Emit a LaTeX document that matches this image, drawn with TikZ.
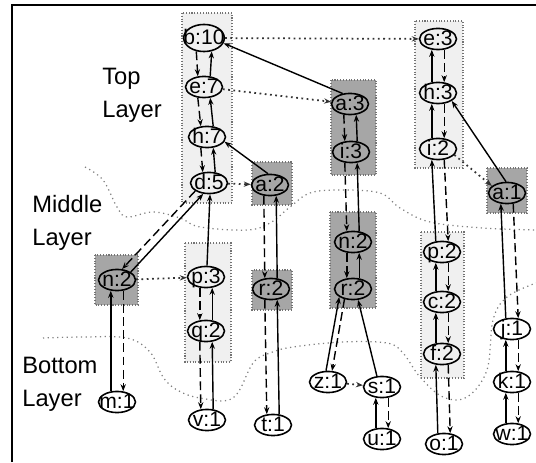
\documentclass[tikz,border=0pt]{standalone}
\usepackage{fontspec}
\setmainfont{Liberation Sans}
\usetikzlibrary{arrows.meta,shapes.geometric}

\tikzset{
  item/.style={ellipse, draw, line width=0.9pt, inner xsep=-3.5pt, inner ysep=0pt,
    minimum width=21pt, minimum height=12pt, text height=8pt, text depth=0.5pt,
    font=\fontsize{12}{13}\selectfont},
  layerlabel/.style={anchor=north west, inner sep=0pt, align=left,
    font=\fontsize{13.5}{18.8}\selectfont},
  lightbox/.style={fill=gray!12, draw=black!55, densely dotted, line width=0.6pt},
  darkbox/.style={fill=gray!70, draw=black!55, densely dotted, line width=0.6pt},
  childarc/.style={-{Stealth[length=4pt,width=3pt]}, line width=0.8pt, dash pattern=on 5pt off 2.5pt},
  parentarc/.style={-{Stealth[length=4pt,width=3pt]}, line width=0.8pt},
  nodelink/.style={-{Stealth[length=4pt,width=3pt]}, line width=1pt, dotted, black!80},
  layerline/.style={black!50, dotted, line width=0.7pt}
}

\begin{document}
\begin{tikzpicture}[x=0.02cm, y=-0.02cm]
  \useasboundingbox (0,0) rectangle (536,462);
  \draw[line width=1.2pt] (12,462) -- (12,5) -- (536,5);

  % boxes
  \filldraw[lightbox] (182,13) rectangle (232,203);
  \filldraw[lightbox] (415,21) rectangle (463,168);
  \filldraw[lightbox] (185,243) rectangle (231,362);
  \filldraw[lightbox] (421,232) rectangle (464,378);
  \filldraw[darkbox] (331,80) rectangle (376,175);
  \filldraw[darkbox] (252,162) rectangle (292,205);
  \filldraw[darkbox] (487,168) rectangle (527,213);
  \filldraw[darkbox] (95,255) rectangle (138,305);
  \filldraw[darkbox] (252,270) rectangle (292,310);
  \filldraw[darkbox] (330,212) rectangle (376,308);

  % layer borders
  \draw[layerline] plot[smooth, tension=0.6] coordinates {(85,167) (103,180) (117,207) (127,217)
    (153,212) (180,218) (200,227) (247,230) (270,223) (290,207) (310,193) (340,190) (380,193)
    (400,208) (430,222) (483,228) (536,230)};
  \draw[layerline] plot[smooth, tension=0.6] coordinates {(43,338) (83,337) (127,338) (150,352)
    (163,377) (177,390) (200,398) (233,398) (253,363) (270,353) (293,347) (343,342) (387,343)
    (403,353) (420,377) (443,397) (467,397) (487,370) (493,320) (507,297) (536,283)};

  \node[layerlabel] (toplbl) at (102,68) {Top\\Layer};
  \node[layerlabel] (midlbl) at (32,195) {Middle\\Layer};
  \node[layerlabel] (botlbl) at (22,357) {Bottom\\Layer};

  % top layer
  \node[item, minimum height=15.4pt] (b10) at (204,38) {b:10};
  \node[item] (e7) at (204,87) {e:7};
  \node[item] (h7) at (207,137) {h:7};
  \node[item] (d5) at (209,183) {d:5};
  \node[item] (a3) at (350,104) {a:3};
  \node[item] (i3) at (351,152) {i:3};
  \node[item] (e3) at (438,39) {e:3};
  \node[item] (h3) at (438,93) {h:3};
  \node[item] (i2) at (438,149) {i:2};
  \node[item] (a2) at (270,185) {a:2};
  \node[item] (a1) at (507,193) {a:1};

  % middle layer
  \node[item] (n2a) at (117,280) {n:2};
  \node[item] (p3) at (206,277) {p:3};
  \node[item] (q2) at (206,331) {q:2};
  \node[item] (r2a) at (271,289) {r:2};
  \node[item] (n2b) at (353,242) {n:2};
  \node[item] (r2b) at (353,289) {r:2};
  \node[item] (p2) at (442,252) {p:2};
  \node[item] (c2) at (442,302) {c:2};
  \node[item] (f2) at (442,354) {f:2};

  % bottom layer
  \node[item] (m1) at (117,402) {m:1};
  \node[item] (v1) at (207,420) {v:1};
  \node[item] (t1) at (273,425) {t:1};
  \node[item] (z1) at (328,382) {z:1};
  \node[item] (s1) at (382,387) {s:1};
  \node[item] (u1) at (382,439) {u:1};
  \node[item] (o1) at (444,444) {o:1};
  \node[item] (j1) at (512,329) {j:1};
  \node[item] (k1) at (512,382) {k:1};
  \node[item] (w1) at (512,434) {w:1};

  % node links
  \draw[nodelink] (b10) -- (e3);
  \draw[nodelink] (e7) -- (a3);
  \draw[nodelink] (d5) -- (a2);
  \draw[nodelink] (i2.-20) -- (a1.155);
  \draw[nodelink] (n2a) -- (p3);
  \draw[nodelink] (z1) -- (s1);

  % single links
  \draw[parentarc] (a3.125) -- (b10.-15);
  \draw[parentarc] (a2.100) -- (h7.-15);
  \draw[parentarc] (a1.95) -- (h3.-30);
  \draw[parentarc] (p3.85) -- (d5.-85);
  \draw[parentarc] (s1.115) -- (r2b.-65);

  % paired links, dashed left
  \draw[childarc] (b10.-120) -- (e7.120);  \draw[parentarc] (e7.60) -- (b10.-60);
  \draw[childarc] (e7.-120) -- (h7.120);   \draw[parentarc] (h7.60) -- (e7.-60);
  \draw[childarc] (h7.-120) -- (d5.120);   \draw[parentarc] (d5.60) -- (h7.-60);
  \draw[childarc] (a3.-120) -- (i3.120);   \draw[parentarc] (i3.60) -- (a3.-60);
  \draw[childarc] (i3.-120) -- (n2b.120);  \draw[parentarc] (n2b.60) -- (i3.-60);
  \draw[childarc] (n2b.-120) -- (r2b.120); \draw[parentarc] (r2b.60) -- (n2b.-60);
  \draw[childarc] (a2.-120) -- (r2a.120);  \draw[parentarc] (r2a.60) -- (a2.-60);
  \draw[childarc] (r2a.-120) -- (t1.120);  \draw[parentarc] (t1.60) -- (r2a.-60);
  \draw[childarc] (p3.-120) -- (q2.120);   \draw[parentarc] (q2.60) -- (p3.-60);
  \draw[childarc] (q2.-120) -- (v1.120);   \draw[parentarc] (v1.60) -- (q2.-60);

  % paired links, dashed right
  \draw[parentarc] (m1.120) -- (n2a.-120); \draw[childarc] (n2a.-60) -- (m1.60);
  \draw[parentarc] (h3.120) -- (e3.-120);  \draw[childarc] (e3.-60) -- (h3.60);
  \draw[parentarc] (i2.120) -- (h3.-120);  \draw[childarc] (h3.-60) -- (i2.60);
  \draw[parentarc] (p2.120) -- (i2.-120);  \draw[childarc] (i2.-60) -- (p2.60);
  \draw[parentarc] (c2.120) -- (p2.-120);  \draw[childarc] (p2.-60) -- (c2.60);
  \draw[parentarc] (f2.120) -- (c2.-120);  \draw[childarc] (c2.-60) -- (f2.60);
  \draw[parentarc] (o1.120) -- (f2.-120);  \draw[childarc] (f2.-60) -- (o1.60);
  \draw[parentarc] (j1.120) -- (a1.-120);  \draw[childarc] (a1.-60) -- (j1.60);
  \draw[parentarc] (k1.120) -- (j1.-120);  \draw[childarc] (j1.-60) -- (k1.60);
  \draw[parentarc] (w1.120) -- (k1.-120);  \draw[childarc] (k1.-60) -- (w1.60);
  \draw[parentarc] (u1.120) -- (s1.-120);  \draw[childarc] (s1.-60) -- (u1.60);

  % diagonal pairs
  \draw[childarc] (d5.-150) -- (n2a.65);   \draw[parentarc] (n2a.30) -- (d5.-118);
  \draw[childarc] (r2b.-130) -- (z1.70);   \draw[parentarc] (z1.100) -- (r2b.-150);
\end{tikzpicture}
\end{document}
